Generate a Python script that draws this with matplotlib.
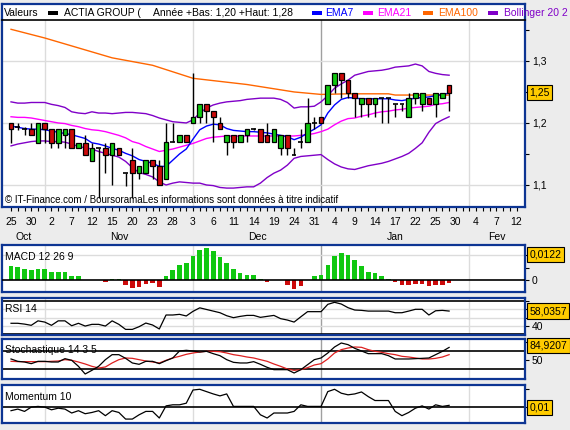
import matplotlib
matplotlib.use("Agg")
import matplotlib.pyplot as plt
import pandas as pd
from matplotlib.patches import Rectangle
from matplotlib.transforms import blended_transform_factory

plt.rcParams['font.family'] = ['Liberation Sans', 'DejaVu Sans']

# trading days on the axis (no session on 25/26 Dec and 1 Jan)
days = pd.bdate_range("2012-10-25", "2013-02-12", freq="C",
                      holidays=["2012-12-25", "2012-12-26", "2013-01-01"])
month_names = ["Oct", "Nov", "Dec", "Jan", "Fev"]

opens = [1.200, 1.194, 1.190, 1.190, 1.168, 1.200, 1.190, 1.168, 1.180, 1.190,
         1.159, 1.168, 1.139, 1.159, 1.159, 1.149, 1.159, 1.119, 1.140, 1.119,
         1.119, 1.140, 1.131, 1.109, 1.169, 1.169, 1.180, 1.200, 1.209, 1.231,
         1.220, 1.200, 1.169, 1.180, 1.169, 1.180, 1.190, 1.190, 1.180, 1.169,
         1.159, 1.180, 1.149, 1.169, 1.169, 1.200, 1.209, 1.231, 1.261, 1.280,
         1.270, 1.249, 1.230, 1.240, 1.230, 1.240, 1.240, 1.230, 1.230, 1.209,
         1.240, 1.230, 1.240, 1.230, 1.240, 1.261]
highs = [1.200, 1.200, 1.194, 1.200, 1.200, 1.200, 1.190, 1.190, 1.190, 1.190,
         1.168, 1.180, 1.168, 1.159, 1.168, 1.168, 1.159, 1.119, 1.159, 1.130,
         1.140, 1.140, 1.140, 1.200, 1.200, 1.180, 1.180, 1.281, 1.231, 1.231,
         1.220, 1.209, 1.180, 1.180, 1.180, 1.190, 1.192, 1.190, 1.200, 1.190,
         1.180, 1.180, 1.159, 1.190, 1.240, 1.209, 1.209, 1.261, 1.280, 1.280,
         1.270, 1.249, 1.240, 1.240, 1.240, 1.240, 1.240, 1.230, 1.230, 1.249,
         1.249, 1.249, 1.240, 1.249, 1.249, 1.261]
lows = [1.168, 1.189, 1.181, 1.180, 1.168, 1.168, 1.159, 1.159, 1.159, 1.159,
        1.159, 1.148, 1.139, 1.079, 1.119, 1.100, 1.149, 1.098, 1.079, 1.109,
        1.119, 1.109, 1.100, 1.109, 1.169, 1.169, 1.169, 1.200, 1.200, 1.200,
        1.169, 1.190, 1.149, 1.159, 1.169, 1.169, 1.188, 1.169, 1.169, 1.169,
        1.149, 1.149, 1.149, 1.159, 1.169, 1.190, 1.200, 1.231, 1.248, 1.240,
        1.240, 1.209, 1.209, 1.209, 1.209, 1.200, 1.200, 1.209, 1.220, 1.209,
        1.230, 1.220, 1.230, 1.209, 1.240, 1.220]
closes = [1.190, 1.194, 1.190, 1.180, 1.200, 1.190, 1.168, 1.190, 1.190, 1.159,
          1.168, 1.148, 1.159, 1.159, 1.149, 1.168, 1.149, 1.119, 1.119, 1.130,
          1.140, 1.130, 1.100, 1.169, 1.169, 1.180, 1.169, 1.209, 1.231, 1.220,
          1.209, 1.190, 1.180, 1.169, 1.180, 1.190, 1.190, 1.169, 1.169, 1.190,
          1.180, 1.159, 1.149, 1.169, 1.200, 1.200, 1.200, 1.261, 1.280, 1.270,
          1.249, 1.240, 1.240, 1.230, 1.240, 1.240, 1.240, 1.230, 1.230, 1.240,
          1.249, 1.249, 1.230, 1.249, 1.249, 1.249]

ema7 = [1.195, 1.193, 1.191, 1.190, 1.190, 1.189, 1.187, 1.185, 1.183, 1.181,
        1.178, 1.175, 1.168, 1.166, 1.163, 1.159, 1.156, 1.151, 1.147, 1.141,
        1.138, 1.135, 1.130, 1.130, 1.140, 1.150, 1.158, 1.174, 1.189, 1.195,
        1.198, 1.197, 1.191, 1.188, 1.187, 1.186, 1.186, 1.185, 1.184, 1.182,
        1.180, 1.178, 1.173, 1.177, 1.184, 1.190, 1.197, 1.216, 1.229, 1.238,
        1.241, 1.240, 1.239, 1.239, 1.239, 1.239, 1.239, 1.237, 1.236, 1.238,
        1.240, 1.241, 1.242, 1.244, 1.246, 1.248]
ema21 = [1.210, 1.209, 1.209, 1.208, 1.206, 1.204, 1.202, 1.200, 1.199, 1.196,
         1.194, 1.191, 1.189, 1.188, 1.186, 1.183, 1.180, 1.176, 1.170, 1.167,
         1.162, 1.158, 1.154, 1.156, 1.158, 1.161, 1.164, 1.167, 1.171, 1.175,
         1.177, 1.178, 1.179, 1.179, 1.179, 1.179, 1.179, 1.179, 1.179, 1.179,
         1.179, 1.179, 1.179, 1.180, 1.181, 1.183, 1.186, 1.190, 1.197, 1.203,
         1.207, 1.208, 1.211, 1.213, 1.216, 1.218, 1.219, 1.221, 1.222, 1.224,
         1.225, 1.226, 1.227, 1.230, 1.231, 1.233]
ema100_days = [0, 5, 15, 21, 27, 35, 42, 46, 50, 56, 57, 65]
ema100 = [1.351, 1.337, 1.305, 1.293, 1.272, 1.262, 1.250, 1.246, 1.247, 1.247, 1.245, 1.245]
boll_up = [1.234, 1.232, 1.232, 1.233, 1.233, 1.233, 1.230, 1.228, 1.225, 1.218,
           1.216, 1.215, 1.218, 1.216, 1.216, 1.215, 1.216, 1.217, 1.217, 1.216,
           1.215, 1.212, 1.208, 1.205, 1.202, 1.201, 1.200, 1.205, 1.216, 1.224,
           1.229, 1.232, 1.234, 1.235, 1.236, 1.238, 1.239, 1.240, 1.240, 1.240,
           1.238, 1.233, 1.224, 1.226, 1.226, 1.227, 1.234, 1.244, 1.256, 1.263,
           1.269, 1.277, 1.280, 1.283, 1.284, 1.285, 1.287, 1.290, 1.291, 1.292,
           1.295, 1.292, 1.283, 1.280, 1.278, 1.277]
boll_dn = [1.163, 1.166, 1.168, 1.170, 1.171, 1.171, 1.170, 1.170, 1.169, 1.166,
           1.162, 1.160, 1.158, 1.154, 1.151, 1.148, 1.145, 1.138, 1.128, 1.120,
           1.117, 1.113, 1.105, 1.100, 1.103, 1.105, 1.104, 1.103, 1.103, 1.100,
           1.099, 1.096, 1.095, 1.095, 1.096, 1.097, 1.097, 1.103, 1.112, 1.119,
           1.124, 1.132, 1.143, 1.146, 1.147, 1.148, 1.149, 1.141, 1.134, 1.129,
           1.126, 1.125, 1.128, 1.131, 1.133, 1.135, 1.138, 1.142, 1.146, 1.151,
           1.159, 1.168, 1.185, 1.199, 1.205, 1.210]

macd_hist = [0.0066, 0.0063, 0.0056, 0.0047, 0.0055, 0.0052, 0.0038, 0.0042, 0.0042, 0.0023,
             0.0019, 0.0, 0.0, 0.0, -0.0008, 0.0009, 0.0005, -0.0020, -0.0036, -0.0031,
             -0.0017, -0.0013, -0.0031, 0.0019, 0.0047, 0.0075, 0.0081, 0.0114, 0.0145, 0.0152,
             0.0138, 0.0110, 0.0081, 0.0055, 0.0033, 0.0028, 0.0027, 0.0005, -0.0008, 0.0,
             0.0, -0.0020, -0.0042, -0.0027, 0.0, 0.0020, 0.0028, 0.0075, 0.0117, 0.0131,
             0.0119, 0.0097, 0.0070, 0.0042, 0.0036, 0.0022, 0.0009, -0.0008, -0.0020, -0.0020,
             -0.0016, -0.0016, -0.0027, -0.0020, -0.0019, -0.0013]
rsi = [43.0, 43.0, 42.0, 40.5, 46.0, 44.5, 40.5, 46.0, 46.0, 40.0,
       43.0, 39.6, 41.7, 41.7, 39.6, 46.0, 41.7, 35.5, 35.5, 38.8,
       43.3, 40.9, 36.0, 53.2, 53.2, 54.0, 52.0, 57.7, 62.0, 60.0,
       58.0, 56.0, 52.3, 49.9, 51.5, 52.7, 52.7, 50.3, 51.5, 52.7,
       48.7, 47.0, 44.5, 51.0, 57.3, 57.3, 57.3, 66.3, 68.8, 66.7,
       62.2, 59.3, 58.9, 58.0, 58.0, 58.0, 58.0, 56.0, 56.0, 58.0,
       60.2, 60.2, 53.2, 58.4, 58.9, 58.0357]
sto_k = [52.8, 46.3, 44.4, 39.8, 46.3, 46.3, 44.4, 44.4, 53.7, 49.1,
         32.4, 11.1, 21.3, 32.4, 50.9, 64.8, 64.8, 54.6, 41.7, 38.0,
         46.3, 46.3, 39.8, 48.1, 55.6, 75.0, 76.9, 75.0, 72.2, 74.1,
         67.6, 62.0, 50.9, 43.5, 41.7, 41.7, 45.4, 38.0, 29.6, 23.1,
         23.1, 23.1, 13.9, 23.1, 37.0, 50.9, 55.6, 69.4, 86.1, 97.2,
         92.6, 82.4, 75.0, 67.6, 67.6, 67.6, 62.0, 52.8, 52.8, 52.8,
         53.7, 54.6, 55.6, 64.8, 74.0, 84.9207]
sto_d = [46.3, 45.4, 45.4, 45.4, 45.4, 45.4, 46.3, 47.2, 50.9, 49.1,
         44.4, 38.9, 32.4, 27.8, 30.6, 41.7, 50.9, 55.6, 54.6, 50.9,
         47.2, 44.4, 41.7, 49.1, 55.6, 60.2, 65.7, 69.4, 72.2, 74.1,
         74.1, 73.1, 69.4, 64.8, 62.0, 58.3, 55.6, 50.9, 46.3, 38.9,
         32.4, 25.0, 21.3, 23.1, 28.7, 36.1, 39.8, 52.8, 69.4, 78.7,
         83.3, 86.1, 85.2, 78.7, 74.1, 71.3, 67.6, 64.8, 60.2, 58.3,
         55.6, 52.8, 52.8, 54.6, 58.3, 64.8]
momentum = [-0.020, -0.011, -0.024, 0.000, 0.004, 0.000, -0.015, -0.006, -0.011, -0.033,
            -0.020, -0.037, -0.030, -0.020, -0.048, -0.020, -0.030, -0.067, -0.067, -0.043,
            -0.024, -0.024, -0.061, 0.007, 0.013, 0.013, 0.022, 0.096, 0.100, 0.087,
            0.074, 0.063, 0.074, 0.004, 0.004, 0.004, 0.004, -0.043, -0.061, -0.033,
            -0.033, -0.033, -0.024, 0.013, 0.004, 0.004, 0.004, 0.087, 0.100, 0.078,
            0.069, 0.074, 0.085, 0.059, 0.037, 0.037, 0.037, -0.024, -0.048, -0.030,
            -0.006, 0.007, -0.011, 0.013, 0.004, 0.010]

W, H = 570, 430
BG = "#ececec"
FRAME = "#0d3593"
GRID = "#dcdcdc"
GREEN = "#10c810"
RED = "#cc0a0a"
YELLOW = "#ffcc00"
FS = 7.5

fig = plt.figure(figsize=(W / 100, H / 100), dpi=100, facecolor=BG)


def px_axes(x0, y0, x1, y1):
    return fig.add_axes([x0 / W, 1 - y1 / H, (x1 - x0) / W, (y1 - y0) / H])


def ftext(x, y, s, **kw):
    fig.text(x / W, 1 - y / H, s, fontsize=FS, va="center", **kw)


n = len(closes)
idx = list(range(n))
xl = (-1.34, 76.26)
month_starts = [i for i in range(1, len(days)) if days[i].month != days[i - 1].month]


def style(a, ylim, ticks, labels):
    a.set_xlim(*xl)
    a.set_ylim(*ylim)
    a.set_facecolor("white")
    for s in a.spines.values():
        s.set_color(FRAME)
        s.set_linewidth(1.6)
    for i in month_starts:
        new_year = days[i].year != days[i - 1].year
        a.axvline(i, color="#a0a0a0" if new_year else GRID, lw=1.0, zorder=0)
    a.yaxis.tick_right()
    a.set_yticks(ticks)
    a.set_yticklabels(labels)
    a.tick_params(axis="y", direction="out", length=3, width=0.8, pad=2,
                  labelsize=FS, colors="black")
    a.tick_params(axis="x", bottom=False, labelbottom=False)


def value_box(a, v, s):
    a.annotate(s, xy=(1, v), xycoords=("axes fraction", "data"),
               xytext=(3, 0), textcoords="offset points", va="center", ha="left",
               fontsize=FS, annotation_clip=False,
               bbox=dict(boxstyle="square,pad=0.25", fc=YELLOW, ec="black", lw=0.8))


# title strip
tax = px_axes(2, 4, 525, 20)
tax.set_xlim(2, 525)
tax.set_ylim(20, 4)
tax.set_xticks([])
tax.set_yticks([])
for s in tax.spines.values():
    s.set_color(FRAME)
    s.set_linewidth(1.6)
tax.spines["bottom"].set_visible(False)
legend_items = [("Valeurs", None, 4, None),
                ("ACTIA GROUP (", "black", 64, 48),
                ("Année +Bas: 1,20 +Haut: 1,28", None, 153, None),
                ("EMA7", "#0000ff", 325, 312),
                ("EMA21", "#ff00ff", 377, 363),
                ("EMA100", "#ff6600", 438, 423),
                ("Bollinger 20 2", "#8000c8", 504, 488)]
for label, col, tx, sx in legend_items:
    tc = "black" if col in (None, "black") else col
    tax.text(tx, 12.5, label, fontsize=FS, color=tc, va="center", ha="left", clip_on=False)
    if sx is not None:
        tax.add_patch(Rectangle((sx, 10.5), 10, 4, fc=col, ec="none", clip_on=False))

# main price panel
ax = px_axes(2, 20, 525, 207)
style(ax, (1.0645, 1.366), [1.1, 1.15, 1.2, 1.25, 1.3, 1.35],
      ["1,1", "", "1,2", "", "1,3", ""])
ax.spines["top"].set_color("black")
ax.spines["top"].set_linewidth(1.2)
for g in (1.1, 1.2, 1.3):
    ax.axhline(g, color=GRID, lw=1.0, zorder=0)

ax.plot(ema100_days, ema100, color="#ff6600", lw=1.0, zorder=2)
ax.plot(idx, boll_up, color="#8000c8", lw=1.0, zorder=2)
ax.plot(idx, boll_dn, color="#8000c8", lw=1.0, zorder=2)
ax.plot(idx, ema21, color="#ff00ff", lw=1.0, zorder=2)
ax.plot(idx, ema7, color="#0000ff", lw=1.0, zorder=2)

bw = 0.7
for i in idx:
    o, h, l, c = opens[i], highs[i], lows[i], closes[i]
    ax.vlines(i, l, h, color="black", lw=1.0, zorder=3)
    if c == o:
        ax.hlines(c, i - bw / 2, i + bw / 2, color="black", lw=1.2, zorder=4)
    else:
        ax.add_patch(Rectangle((i - bw / 2, min(o, c)), bw, abs(c - o),
                               fc=GREEN if c > o else RED, ec="black", lw=0.9, zorder=4))

ax.set_xticks(range(len(days)))
ax.set_xticklabels([str(d.day) if k % 3 == 0 else "" for k, d in enumerate(days)])
ax.tick_params(axis="x", bottom=True, labelbottom=True, direction="out", length=3,
               width=0.8, pad=4, labelsize=FS, colors="black")
value_box(ax, closes[-1], "1,25")
ax.text(0.006, 0.035, "© IT-Finance.com / BoursoramaLes informations sont données à titre indicatif",
        transform=ax.transAxes, fontsize=7, va="center", ha="left", zorder=6)

# month names under the day numbers
bounds = [xl[0]] + month_starts + [xl[1]]
mtr = blended_transform_factory(ax.transData, fig.transFigure)
for k, name in enumerate(month_names):
    fig.text((bounds[k] + bounds[k + 1]) / 2, 1 - 237 / H, name, transform=mtr,
             fontsize=FS, ha="center", va="center")

# MACD
mx = px_axes(2, 245, 525, 292)
style(mx, (-0.0054, 0.01666), [0, 0.006, 0.0122], ["0", "", ""])
mx.axhline(0.0122, color=GRID, lw=1.0, zorder=0)
mx.bar(idx, macd_hist, width=0.68, color=[GREEN if v >= 0 else RED for v in macd_hist],
       zorder=2)
mx.axhline(0, color="black", lw=1.2, zorder=3)
value_box(mx, 0.0122, "0,0122")
ftext(5, 257, "MACD 12 26 9")

# RSI
rx = px_axes(2, 298, 525, 335)
style(rx, (28.6, 74.1), [40, 50, 60, 70], ["40", "", "", ""])
for g in (40, 50, 60):
    rx.axhline(g, color=GRID, lw=1.0, zorder=0)
for g in (30, 70):
    rx.axhline(g, color="black", lw=1.2, zorder=1)
rx.plot(idx, rsi, color="black", lw=0.9, zorder=2)
value_box(rx, rsi[-1], "58,0357")
ftext(5, 309, "RSI 14")

# Stochastic
sx = px_axes(2, 339, 525, 379)
style(sx, (-2.8, 108.3), [50, 100], ["50", ""])
for g in (25, 75):
    sx.axhline(g, color="black", lw=1.2, zorder=1)
sx.plot(idx, sto_d, color="#dd2020", lw=0.9, zorder=2)
sx.plot(idx, sto_k, color="black", lw=0.9, zorder=3)
value_box(sx, sto_k[-1] + 6, "84,9207")
ftext(5, 350, "Stochastique 14 3 5")

# Momentum
ox = px_axes(2, 385, 525, 423)
style(ox, (-0.089, 0.124), [0, 0.1], ["", ""])
ox.axhline(0, color="black", lw=1.2, zorder=1)
ox.plot(idx, momentum, color="black", lw=0.9, zorder=2)
value_box(ox, 0.0, "0,01")
ftext(5, 397, "Momentum 10")

fig.savefig("out.png", dpi=100, facecolor=BG)
